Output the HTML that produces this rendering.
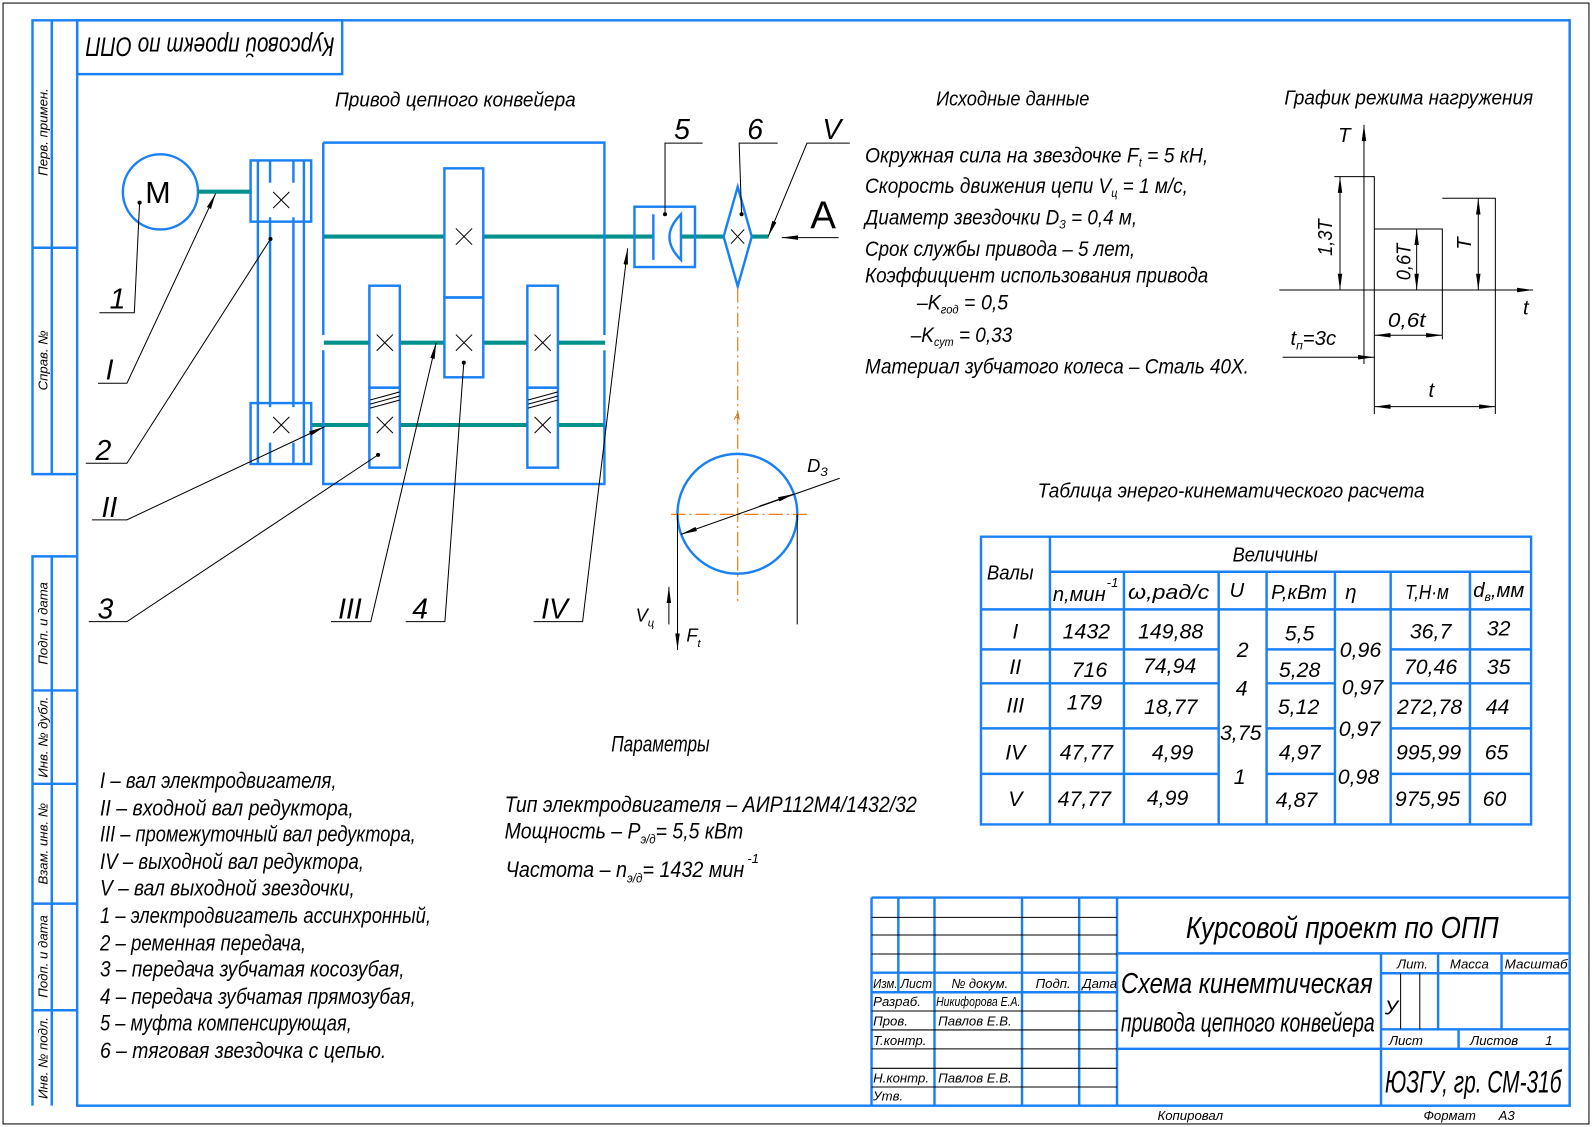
<!DOCTYPE html>
<html><head><meta charset="utf-8"><style>
html,body{margin:0;padding:0;background:#fff;width:1592px;height:1127px;overflow:hidden}
svg{display:block}
text{font-family:"Liberation Sans","DejaVu Sans",sans-serif;font-style:italic;fill:#000}
.b{stroke:#1a80f5;stroke-width:2.4;fill:none}
.bt{stroke:#1a80f5;stroke-width:1.6;fill:none}
.k{stroke:#000;stroke-width:1;fill:none}
.sh{stroke:#00918c;stroke-width:4;fill:none}
.o{stroke:#f08010;stroke-width:1.2;fill:none;stroke-dasharray:14 4 2 4}
</style></head><body>
<svg width="1592" height="1127" viewBox="0 0 1568 1110" xmlns="http://www.w3.org/2000/svg">
<defs>
<marker id="ah" viewBox="0 0 16 6" refX="16" refY="3" markerWidth="16" markerHeight="6" markerUnits="userSpaceOnUse" orient="auto-start-reverse"><path d="M0,0.8 L16,3 L0,5.2 Z" fill="#000"/></marker>
</defs>
<rect x="0" y="0" width="1568" height="1110" fill="#fff"/>
<rect x="3" y="3" width="1562" height="1104" class="k"/>
<!-- frame -->
<rect x="76" y="20" width="1470" height="1069" class="b"/>
<path class="b" d="M76,20 H32 V467 H76 M51,20 V467 M32,244 H76 M76,548 H32 V1089 M51,548 V1089 M32,680 H76 M32,772 H76 M32,890 H76 M32,995 H76"/>
<g font-size="13">
<text transform="translate(47,130) rotate(-90)" text-anchor="middle">Перв. примен.</text>
<text transform="translate(47,355) rotate(-90)" text-anchor="middle">Справ. №</text>
<text transform="translate(47,614) rotate(-90)" text-anchor="middle">Подп. и дата</text>
<text transform="translate(47,726) rotate(-90)" text-anchor="middle">Инв. № дубл.</text>
<text transform="translate(47,831) rotate(-90)" text-anchor="middle">Взам. инв. №</text>
<text transform="translate(47,942) rotate(-90)" text-anchor="middle">Подп. и дата</text>
<text transform="translate(47,1042) rotate(-90)" text-anchor="middle">Инв. № подл.</text>
</g>
<rect x="76" y="20" width="261" height="53" class="b"/>
<text transform="translate(207,37) rotate(180)" text-anchor="middle" font-size="26" textLength="245" lengthAdjust="spacingAndGlyphs">Курсовой проект по ОПП</text>

<!-- headings -->
<text x="330" y="105" font-size="20" textLength="237" lengthAdjust="spacingAndGlyphs">Привод цепного конвейера</text>
<text x="922" y="104" font-size="20" textLength="151" lengthAdjust="spacingAndGlyphs">Исходные данные</text>
<text x="1265" y="103" font-size="20" textLength="245" lengthAdjust="spacingAndGlyphs">График режима нагружения</text>

<!-- motor -->
<circle cx="158" cy="189" r="37" class="b"/>
<text x="143" y="200" font-size="30" font-style="normal" style="font-style:normal">M</text>
<!-- shafts -->
<path class="sh" d="M195,188.8 H248 M318,233 H437.7 M476,233 H643.5 M670.7,233 H712.7 M740.4,233 H757 M319,337.5 H363.8 M393.8,337.5 H437.7 M476,337.5 H519.4 M549.5,337.5 H596 M306,418.6 H363.8 M393.8,418.6 H519.4 M549.5,418.6 H596"/>
<!-- pulley -->
<rect x="246.8" y="158" width="59.7" height="60.3" class="b"/>
<rect x="246.8" y="397" width="59.7" height="60" class="b"/>
<path class="b" d="M254,158 V457 M299.3,158 V457 M266,158 V180 M289,158 V180 M266,214 V401 M289,214 V401 M266,436 V457 M289,436 V457"/>
<!-- housing -->
<path class="b" d="M318.4,140.5 H595.3 V330 M595.3,345 V476.7 H318.4 V345 M318.4,330 V140.5"/>
<!-- gears -->
<rect x="437.7" y="165.8" width="38.3" height="127.2" class="b"/>
<rect x="437.7" y="293" width="38.3" height="78.6" class="b"/>
<rect x="363.8" y="281.4" width="30" height="100.4" class="b"/>
<rect x="363.8" y="381.8" width="30" height="78.8" class="b"/>
<rect x="519.4" y="281.4" width="30.1" height="100.4" class="b"/>
<rect x="519.4" y="381.8" width="30.1" height="78.8" class="b"/>
<path class="k" d="M393.8,386 L364.5,394 M393.8,390 L364.5,398 M393.8,394 L364.5,402 M549.5,386 L520.2,394 M549.5,390 L520.2,398 M549.5,394 L520.2,402"/>
<g class="k">
<path d="M269,189 l16,16 m0,-16 l-16,16 M269,410.6 l16,16 m0,-16 l-16,16"/>
<path d="M449,225 l16,16 m0,-16 l-16,16 M449,329.5 l16,16 m0,-16 l-16,16"/>
<path d="M371,329.5 l16,16 m0,-16 l-16,16 M371,410.6 l16,16 m0,-16 l-16,16"/>
<path d="M526.5,329.5 l16,16 m0,-16 l-16,16 M526.5,410.6 l16,16 m0,-16 l-16,16"/>
<path d="M720,226 l13,14 m0,-14 l-13,14"/>
</g>
<!-- coupling -->
<rect x="624.9" y="203.6" width="59.6" height="59.4" class="b"/>
<path class="b" d="M643.5,211 V256 M670.7,211 Q648,233.5 670.7,256 Z"/>
<!-- sprocket -->
<path class="b" d="M726.6,184 L740.4,233 L726.6,282 L712.7,233 Z"/>
<path class="o" d="M726.6,284 V592"/>
<text x="723" y="413" font-size="9" fill="#f08010" style="fill:#c06010">A</text>
<circle cx="726.3" cy="506" r="59" class="b"/>
<path class="o" d="M661,506.6 H795"/>
<path class="k" d="M667.3,506 V640 M785.2,506 V615"/>
<path class="k" d="M827,471 L670.7,526.3" marker-end="url(#ah)"/>
<path class="k" d="M748,498.5 L782,486.5" marker-end="url(#ah)"/>
<text x="795" y="465" font-size="18">D<tspan font-size="12" dy="4">З</tspan></text>
<path class="k" d="M658.8,615 V578" marker-end="url(#ah)"/>
<path class="k" d="M667.3,600 V640" marker-end="url(#ah)"/>
<text x="626" y="612" font-size="18">V<tspan font-size="11" dy="5">ц</tspan></text>
<text x="676" y="632" font-size="18">F<tspan font-size="11" dy="5">t</tspan></text>
<text x="798" y="225" font-size="38" style="font-style:normal">A</text>
<path class="k" d="M826,234 H770" marker-end="url(#ah)"/>

<!-- leaders -->
<g class="k">
<path d="M137.5,199.6 L132.3,308 H97.9"/>
<path d="M125,377.5 H96.5 M125,377.5 L212.5,190.4" marker-end="url(#ah)"/>
<path d="M266.4,235.4 L125,456.3 H84.5"/>
<path d="M90.7,512 H125 L319.8,420.2" marker-end="url(#ah)"/>
<path d="M372.4,448 L125,612.3 H87.4"/>
<path d="M326,612.3 H365.2 L429.6,337.5" marker-end="url(#ah)"/>
<path d="M456.8,357.2 L438.2,612.3 H399.6"/>
<path d="M525.6,612.3 H573.8 L618.2,244.6" marker-end="url(#ah)"/>
<path d="M655,211 V141 H692"/>
<path d="M730.4,211 L728,141 H766"/>
<path d="M837,141 H794.8 L756.6,233" marker-end="url(#ah)"/>
</g>
<g fill="#000">
<circle cx="137.5" cy="199.6" r="2"/><circle cx="266.4" cy="235.4" r="2"/><circle cx="372.4" cy="448" r="2"/>
<circle cx="456.8" cy="357.2" r="2"/><circle cx="655" cy="211" r="2"/><circle cx="730.4" cy="211" r="2"/>
</g>
<g font-size="28">
<text x="108" y="304">1</text>
<text x="104" y="374">I</text>
<text x="94" y="453">2</text>
<text x="100" y="509">II</text>
<text x="96" y="609">3</text>
<text x="333" y="609">III</text>
<text x="406" y="609">4</text>
<text x="533" y="609">IV</text>
<text x="664" y="137">5</text>
<text x="736" y="137">6</text>
<text x="810" y="137">V</text>
</g>

<!-- input data -->
<g font-size="21">
<text x="852" y="160" textLength="338" lengthAdjust="spacingAndGlyphs">Окружная сила на звездочке F<tspan font-size="12" dy="4">t</tspan><tspan dy="-4"> = 5 кН,</tspan></text>
<text x="852" y="190" textLength="318" lengthAdjust="spacingAndGlyphs">Скорость движения цепи V<tspan font-size="12" dy="4">ц</tspan><tspan dy="-4"> = 1 м/с,</tspan></text>
<text x="852" y="221" textLength="268" lengthAdjust="spacingAndGlyphs">Диаметр звездочки D<tspan font-size="12" dy="4">З</tspan><tspan dy="-4"> = 0,4 м,</tspan></text>
<text x="852" y="252" textLength="266" lengthAdjust="spacingAndGlyphs">Срок службы привода – 5 лет,</text>
<text x="852" y="278" textLength="338" lengthAdjust="spacingAndGlyphs">Коэффициент использования привода</text>
<text x="903" y="305" textLength="90" lengthAdjust="spacingAndGlyphs">–K<tspan font-size="12" dy="4">год</tspan><tspan dy="-4"> = 0,5</tspan></text>
<text x="897" y="337" textLength="100" lengthAdjust="spacingAndGlyphs">–K<tspan font-size="12" dy="4">сут</tspan><tspan dy="-4"> = 0,33</tspan></text>
<text x="852" y="368" textLength="378" lengthAdjust="spacingAndGlyphs">Материал зубчатого колеса – Сталь 40Х.</text>
</g>

<!-- graph -->
<g class="k">
<path d="M1343.4,358.5 V123" marker-end="url(#ah)"/>
<path d="M1260,285.6 H1510" marker-end="url(#ah)"/>
<path d="M1314.2,174 H1353.6 V407.7 M1353.6,225.5 H1420.6 V334.2 M1420.6,195.3 H1472.8 V407.7"/>
<path d="M1319.8,174 V285.6" marker-start="url(#ah)" marker-end="url(#ah)"/>
<path d="M1395.3,225.5 V285.6" marker-start="url(#ah)" marker-end="url(#ah)"/>
<path d="M1456,195.3 V285.6" marker-start="url(#ah)" marker-end="url(#ah)"/>
<path d="M1353.6,330.2 H1420.6" marker-start="url(#ah)" marker-end="url(#ah)"/>
<path d="M1353.6,400.5 H1472.8" marker-start="url(#ah)" marker-end="url(#ah)"/>
<path d="M1263.3,351.9 H1353.6" marker-end="url(#ah)"/>
</g>
<g font-size="20">
<text x="1318" y="140">T</text>
<text x="1500" y="310">t</text>
<text transform="translate(1312,252) rotate(-90)" textLength="36" lengthAdjust="spacingAndGlyphs">1,3T</text>
<text transform="translate(1389,276) rotate(-90)" textLength="36" lengthAdjust="spacingAndGlyphs">0,6T</text>
<text transform="translate(1449,246) rotate(-90)">T</text>
<text x="1367" y="322" textLength="37" lengthAdjust="spacingAndGlyphs">0,6t</text>
<text x="1407" y="391">t</text>
<text x="1271" y="340">t<tspan font-size="12" dy="4">п</tspan><tspan dy="-4">=3с</tspan></text>
</g>

<!-- table -->
<text x="1022" y="490" font-size="20" textLength="381" lengthAdjust="spacingAndGlyphs">Таблица энерго-кинематического расчета</text>
<path class="b" d="M966.2,528.6 H1508 V812 H966.2 Z M1034.1,528.6 V812 M1034.1,563.1 H1508 M966.2,600.2 H1508 M1107,563.1 V812 M1200.3,563.1 V812 M1247.5,563.1 V812 M1314.8,563.1 V812 M1369.7,563.1 V812 M1447.8,563.1 V812 M966.2,639.6 H1200.3 M966.2,673 H1200.3 M966.2,717.4 H1200.3 M966.2,762.2 H1200.3 M1247.5,639.6 H1314.8 M1247.5,673 H1314.8 M1247.5,717.4 H1314.8 M1247.5,762.2 H1314.8 M1369.7,639.6 H1508 M1369.7,673 H1508 M1369.7,717.4 H1508 M1369.7,762.2 H1508"/>
<g font-size="20">
<text x="972" y="571" textLength="46" lengthAdjust="spacingAndGlyphs">Валы</text>
<text x="1214" y="553" textLength="84" lengthAdjust="spacingAndGlyphs">Величины</text>
<text x="1037" y="592" textLength="52" lengthAdjust="spacingAndGlyphs">n,мин</text><text x="1090" y="578" font-size="13">-1</text>
<text x="1111" y="590" textLength="80" lengthAdjust="spacingAndGlyphs">ω,рад/с</text>
<text x="1211" y="588">U</text>
<text x="1252" y="590" textLength="55" lengthAdjust="spacingAndGlyphs">P,кВт</text>
<text x="1325" y="590">η</text>
<text x="1384" y="590" textLength="43" lengthAdjust="spacingAndGlyphs">T,Н·м</text>
<text x="1451" y="588">d<tspan font-size="12" dy="4">в</tspan><tspan dy="-4">,мм</tspan></text>
</g>
<g font-size="21" text-anchor="middle">
<text x="1000" y="629">I</text><text x="1000" y="664">II</text><text x="1000" y="702">III</text><text x="1000" y="748">IV</text><text x="1000" y="794">V</text>
<text x="1070" y="629">1432</text><text x="1073" y="667">716</text><text x="1068" y="699">179</text><text x="1070" y="748">47,77</text><text x="1068" y="794">47,77</text>
<text x="1153" y="629">149,88</text><text x="1152" y="663">74,94</text><text x="1153" y="703">18,77</text><text x="1155" y="748">4,99</text><text x="1150" y="793">4,99</text>
<text x="1224" y="647">2</text><text x="1223" y="685">4</text><text x="1222" y="729">3,75</text><text x="1221" y="772">1</text>
<text x="1280" y="631">5,5</text><text x="1280" y="667">5,28</text><text x="1279" y="703">5,12</text><text x="1280" y="748">4,97</text><text x="1277" y="795">4,87</text>
<text x="1340" y="647">0,96</text><text x="1342" y="684">0,97</text><text x="1339" y="725">0,97</text><text x="1338" y="772">0,98</text>
<text x="1409" y="629">36,7</text><text x="1409" y="664">70,46</text><text x="1408" y="703">272,78</text><text x="1407" y="748">995,99</text><text x="1406" y="794">975,95</text>
<text x="1476" y="626">32</text><text x="1476" y="664">35</text><text x="1475" y="703">44</text><text x="1474" y="748">65</text><text x="1472" y="794">60</text>
</g>

<!-- legend -->
<g font-size="22">
<text x="98.5" y="776" textLength="233" lengthAdjust="spacingAndGlyphs">I – вал электродвигателя,</text>
<text x="98.5" y="803" textLength="250" lengthAdjust="spacingAndGlyphs">II – входной вал редуктора,</text>
<text x="98.5" y="829" textLength="311" lengthAdjust="spacingAndGlyphs">III – промежуточный вал редуктора,</text>
<text x="98.5" y="856" textLength="260" lengthAdjust="spacingAndGlyphs">IV – выходной вал редуктора,</text>
<text x="98.5" y="882" textLength="251" lengthAdjust="spacingAndGlyphs">V – вал выходной звездочки,</text>
<text x="98.5" y="909" textLength="326" lengthAdjust="spacingAndGlyphs">1 – электродвигатель ассинхронный,</text>
<text x="98.5" y="936" textLength="203" lengthAdjust="spacingAndGlyphs">2 – ременная передача,</text>
<text x="98.5" y="962" textLength="300" lengthAdjust="spacingAndGlyphs">3 – передача зубчатая косозубая,</text>
<text x="98.5" y="989" textLength="311" lengthAdjust="spacingAndGlyphs">4 – передача зубчатая прямозубая,</text>
<text x="98.5" y="1015" textLength="248" lengthAdjust="spacingAndGlyphs">5 – муфта компенсирующая,</text>
<text x="98.5" y="1042" textLength="282" lengthAdjust="spacingAndGlyphs">6 – тяговая звездочка с цепью.</text>
</g>
<g font-size="22">
<text x="602" y="740" textLength="97" lengthAdjust="spacingAndGlyphs">Параметры</text>
<text x="497" y="800" textLength="406" lengthAdjust="spacingAndGlyphs">Тип электродвигателя – АИР112М4/1432/32</text>
<text x="497" y="826" textLength="235" lengthAdjust="spacingAndGlyphs">Мощность – P<tspan font-size="13" dy="5">э/д</tspan><tspan dy="-5">= 5,5 кВт</tspan></text>
<text x="498" y="864" textLength="235" lengthAdjust="spacingAndGlyphs">Частота – n<tspan font-size="13" dy="5">э/д</tspan><tspan dy="-5">= 1432 мин</tspan></text>
<text x="736" y="850" font-size="13">-1</text>
</g>

<!-- title block -->
<path class="b" d="M858.4,884 H1546 M858.4,884 V1089 M884.8,884 V977.3 M920.4,884 V1089 M1006.6,884 V1089 M1062.9,884 V1089 M1100.2,884 V1089 M858.4,958 H1100.2 M858.4,977.3 H1100.2 M1100.2,939 H1546 M1360.2,939 V1089 M1360.2,958.6 H1546 M1360.2,1013.8 H1546 M1100.2,1033 H1546 M1416.4,939 V1013.8 M1478.9,939 V1013.8 M1436.6,1013.8 V1033"/>
<path class="k" d="M858.4,903.5 H1100.2 M858.4,920.9 H1100.2 M858.4,939.6 H1100.2 M858.4,995.7 H1100.2 M858.4,1014.4 H1100.2 M858.4,1033.1 H1100.2 M858.4,1052.2 H1100.2 M858.4,1070.6 H1100.2 M1379.5,958.6 V1013.8 M1398.4,958.6 V1013.8"/>
<text x="1322" y="924" font-size="30" text-anchor="middle" textLength="308" lengthAdjust="spacingAndGlyphs">Курсовой проект по ОПП</text>
<text x="1104" y="978" font-size="28" textLength="248" lengthAdjust="spacingAndGlyphs">Схема кинемтическая</text>
<text x="1104" y="1016" font-size="26" textLength="250" lengthAdjust="spacingAndGlyphs">привода цепного конвейера</text>
<text x="1364" y="1076" font-size="31" textLength="174" lengthAdjust="spacingAndGlyphs">ЮЗГУ, гр. СМ-31б</text>
<g font-size="13">
<text x="1376" y="954">Лит.</text>
<text x="1428" y="954">Масса</text>
<text x="1482" y="954" textLength="62" lengthAdjust="spacingAndGlyphs">Масштаб</text>
<text x="1364" y="999" font-size="20">У</text>
<text x="1368" y="1029">Лист</text>
<text x="1448" y="1029">Листов</text>
<text x="1522" y="1029">1</text>
<text x="860" y="973" textLength="24" lengthAdjust="spacingAndGlyphs">Изм.</text>
<text x="887" y="973" textLength="31" lengthAdjust="spacingAndGlyphs">Лист</text>
<text x="937" y="973" textLength="56" lengthAdjust="spacingAndGlyphs">№ докум.</text>
<text x="1020" y="973">Подп.</text>
<text x="1066" y="973">Дата</text>
<text x="860" y="991">Разраб.</text>
<text x="922" y="991" textLength="83" lengthAdjust="spacingAndGlyphs">Никифорова Е.А.</text>
<text x="860" y="1010">Пров.</text>
<text x="924" y="1010">Павлов Е.В.</text>
<text x="860" y="1029">Т.контр.</text>
<text x="860" y="1066">Н.контр.</text>
<text x="924" y="1066">Павлов Е.В.</text>
<text x="860" y="1084">Утв.</text>
<text x="1140" y="1103">Копировал</text>
<text x="1402" y="1103">Формат</text>
<text x="1476" y="1103">А3</text>
</g>
</svg>
</body></html>
